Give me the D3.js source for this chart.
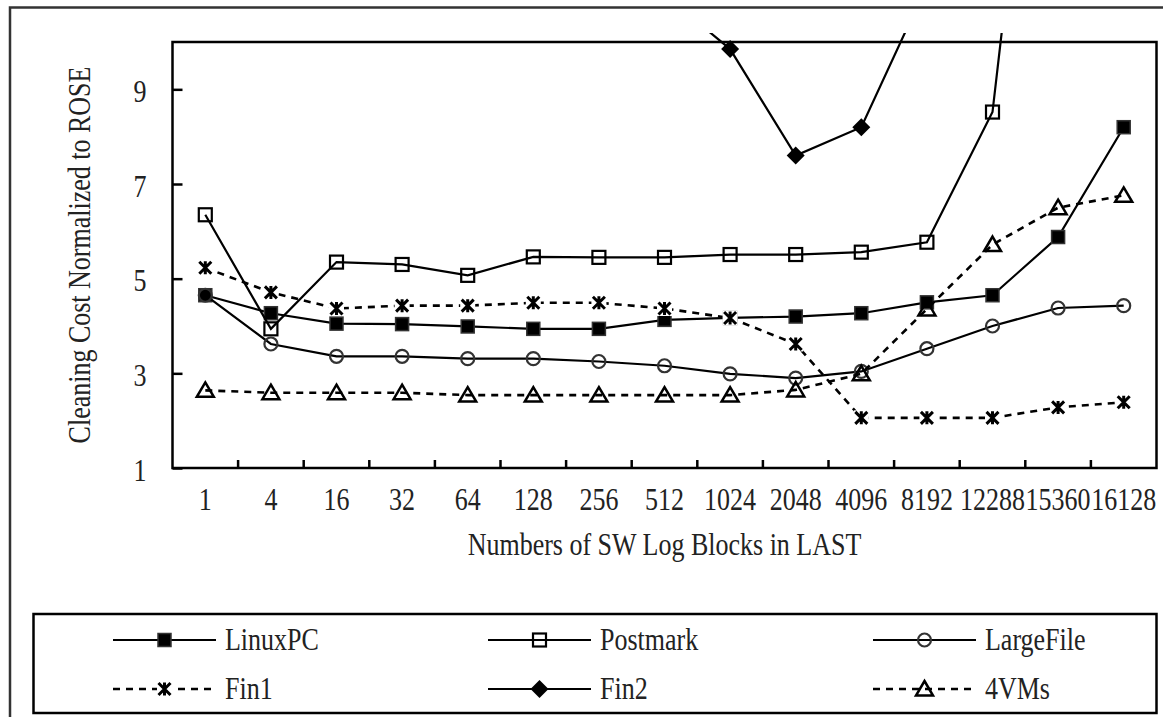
<!DOCTYPE html>
<html>
<head>
<meta charset="utf-8">
<script src="https://cdn.jsdelivr.net/npm/d3@7"></script>
<style>
  body { margin: 0; background: #fff; }
  svg { display: block; }
  text { font-family: "Liberation Serif", "Times New Roman", serif; fill: #222; }
</style>
</head>
<body>
<svg id="chart" width="1163" height="717"></svg>
<script>
// Number of SW log blocks (x categories)
const categories = ["1", "4", "16", "32", "64", "128", "256", "512", "1024", "2048", "4096", "8192", "12288", "15360", "16128"];
const yTicks = [1, 3, 5, 7, 9];

// Cleaning cost normalized to ROSE, one array per workload (null = off the scale / not plotted)
const linuxPC   = [4.65, 4.27, 4.05, 4.04, 3.99, 3.94, 3.94, 4.13, 4.17, 4.20, 4.27, 4.50, 4.65, 5.88, 8.20];
const postmark  = [6.35, 3.94, 5.35, 5.30, 5.07, 5.46, 5.45, 5.45, 5.51, 5.51, 5.56, 5.77, 8.52, 20.5, null];
const largeFile = [4.65, 3.62, 3.36, 3.36, 3.31, 3.31, 3.25, 3.16, 2.99, 2.90, 3.04, 3.52, 4.00, 4.38, 4.43];
const fin1      = [5.23, 4.71, 4.37, 4.43, 4.43, 4.49, 4.49, 4.37, 4.17, 3.62, 2.06, 2.06, 2.06, 2.28, 2.39];
const fin2      = [null, null, null, null, null, null, null, 11.0, 9.85, 7.60, 8.20, 11.2, null, null, null];
const vms4      = [2.64, 2.59, 2.59, 2.59, 2.54, 2.54, 2.54, 2.54, 2.54, 2.65, 2.99, 4.36, 5.72, 6.50, 6.76];

const seriesNames = ["LinuxPC", "Postmark", "LargeFile", "Fin1", "Fin2", "4VMs"];

const series = [
  { name: seriesNames[0], values: linuxPC,   dash: null,  marker: "squareFilled" },
  { name: seriesNames[1], values: postmark,  dash: null,  marker: "squareOpen" },
  { name: seriesNames[2], values: largeFile, dash: null,  marker: "circle" },
  { name: seriesNames[3], values: fin1,      dash: "7,6", marker: "star" },
  { name: seriesNames[4], values: fin2,      dash: null,  marker: "diamond" },
  { name: seriesNames[5], values: vms4,      dash: "7,6", marker: "triangle" }
];

const FONT = 26;        // text size
const TALL = 1.2;       // vertical stretch of the glyphs

const svg = d3.select("#chart");

const plot = { left: 172.5, right: 1156.5, top: 42, bottom: 468 };

const x = d3.scaleBand().domain(categories).range([plot.left, plot.right]).padding(0);
const y = d3.scaleLinear().domain([1, 10]).range([plot.bottom, plot.top]);
const cx = c => x(c) + x.bandwidth() / 2;

// text placed by its baseline point, glyphs stretched vertically
function label(parent, px, py, str, anchor, rotate) {
  return parent.append("text")
    .attr("transform", `translate(${px},${py})${rotate ? ` rotate(${rotate})` : ""} scale(1,${TALL})`)
    .attr("text-anchor", anchor || "start")
    .attr("font-size", FONT)
    .text(str);
}

// outer frame (runs past the right and bottom edges)
svg.append("rect")
  .attr("x", 10).attr("y", 7.5).attr("width", 1200).attr("height", 760)
  .attr("fill", "none").attr("stroke", "#333").attr("stroke-width", 2.5);

// clip region for the series: lines may run a little above the plot frame
svg.append("clipPath").attr("id", "seriesClip")
  .append("rect").attr("x", 0).attr("y", 33).attr("width", 1163).attr("height", 560);

// plot frame
svg.append("rect")
  .attr("x", plot.left).attr("y", plot.top)
  .attr("width", plot.right - plot.left).attr("height", plot.bottom - plot.top)
  .attr("fill", "none").attr("stroke", "#000").attr("stroke-width", 2.5);

// y axis
const yAxis = svg.append("g")
  .attr("transform", `translate(${plot.left},0)`)
  .call(d3.axisLeft(y).tickValues(yTicks).tickSize(-10).tickFormat(d3.format("d")));
yAxis.select(".domain").remove();
yAxis.selectAll(".tick line").attr("stroke", "#000").attr("stroke-width", 2.5);
yAxis.selectAll(".tick text")
  .attr("x", 0).attr("y", 0).attr("dy", null)
  .attr("transform", `translate(-26,12) scale(1,${TALL})`)
  .attr("font-size", FONT).attr("fill", "#222")
  .attr("font-family", "Liberation Serif, Times New Roman, serif");

// x axis: labels at category centres, tick marks on category boundaries
const xAxis = svg.append("g")
  .attr("transform", `translate(0,${plot.bottom})`)
  .call(d3.axisBottom(x).tickSize(0));
xAxis.select(".domain").remove();
xAxis.selectAll(".tick text")
  .attr("x", 0).attr("y", 0).attr("dy", null)
  .attr("transform", `translate(0,42) scale(1,${TALL})`)
  .attr("font-size", FONT).attr("fill", "#222")
  .attr("font-family", "Liberation Serif, Times New Roman, serif");

svg.append("g").selectAll("line")
  .data(categories.slice(1))
  .join("line")
  .attr("x1", d => x(d)).attr("x2", d => x(d))
  .attr("y1", plot.bottom).attr("y2", plot.bottom - 8)
  .attr("stroke", "#000").attr("stroke-width", 2.5);

// axis titles
label(svg, (plot.left + plot.right) / 2, 555, "Numbers of SW Log Blocks in LAST", "middle");
label(svg, 90, (plot.top + plot.bottom) / 2, "Cleaning Cost Normalized to ROSE", "middle", -90);

// marker shapes
function drawMarker(g, type, px, py) {
  switch (type) {
    case "squareFilled":
      g.append("rect").attr("x", px - 6.5).attr("y", py - 6.5).attr("width", 13).attr("height", 13)
        .attr("fill", "#000").attr("stroke", "#333").attr("stroke-width", 1.5);
      break;
    case "squareOpen":
      g.append("rect").attr("x", px - 6.5).attr("y", py - 6.5).attr("width", 13).attr("height", 13)
        .attr("fill", "none").attr("stroke", "#000").attr("stroke-width", 2.2);
      break;
    case "circle":
      g.append("circle").attr("cx", px).attr("cy", py).attr("r", 6.5)
        .attr("fill", "none").attr("stroke", "#333").attr("stroke-width", 2.2);
      break;
    case "star":
      g.append("rect").attr("x", px - 7.5).attr("y", py - 7.5).attr("width", 15).attr("height", 15)
        .attr("fill", "#fff");
      g.append("path")
        .attr("d", `M${px - 6},${py - 6}L${px + 6},${py + 6}M${px - 6},${py + 6}L${px + 6},${py - 6}M${px},${py - 6.5}L${px},${py + 6.5}`)
        .attr("stroke", "#000").attr("stroke-width", 3).attr("fill", "none");
      break;
    case "diamond":
      g.append("path")
        .attr("d", `M${px},${py - 9}L${px + 9},${py}L${px},${py + 9}L${px - 9},${py}Z`)
        .attr("fill", "#000");
      break;
    case "triangle":
      g.append("path")
        .attr("d", `M${px},${py - 8}L${px + 8.5},${py + 6.5}L${px - 8.5},${py + 6.5}Z`)
        .attr("fill", "none").attr("stroke", "#000").attr("stroke-width", 2.5)
        .attr("stroke-linejoin", "miter");
      break;
  }
}

// series: line first, then markers, in series order
const layer = svg.append("g").attr("clip-path", "url(#seriesClip)");
const line = d3.line()
  .defined(d => d.v !== null)
  .x(d => cx(d.c))
  .y(d => y(d.v));

series.forEach(s => {
  const pts = categories.map((c, i) => ({ c, v: s.values[i] }));
  const g = layer.append("g");
  g.append("path")
    .datum(pts)
    .attr("d", line)
    .attr("fill", "none")
    .attr("stroke", "#000")
    .attr("stroke-width", s.dash ? 2.6 : 2.2)
    .attr("stroke-dasharray", s.dash);
  pts.filter(p => p.v !== null && p.v <= 10.2).forEach(p => drawMarker(g, s.marker, cx(p.c), y(p.v)));
});

// legend
const legend = svg.append("g");
legend.append("rect")
  .attr("x", 33.5).attr("y", 614).attr("width", 1123).attr("height", 99)
  .attr("fill", "#fff").attr("stroke", "#000").attr("stroke-width", 2.5);

const colX = [113, 488, 873];
const rowY = [640, 689];
const lineLen = 103;

series.forEach((s, i) => {
  const col = i % 3, row = Math.floor(i / 3);
  const x0 = colX[col], yy = rowY[row];
  const g = legend.append("g");
  g.append("line")
    .attr("x1", x0).attr("x2", x0 + lineLen).attr("y1", yy).attr("y2", yy)
    .attr("stroke", "#000").attr("stroke-width", s.dash ? 2.6 : 2.2)
    .attr("stroke-dasharray", s.dash);
  drawMarker(g, s.marker, x0 + lineLen / 2, yy);
  label(g, x0 + lineLen + 9, yy + 10, s.name);
});
</script>
</body>
</html>
